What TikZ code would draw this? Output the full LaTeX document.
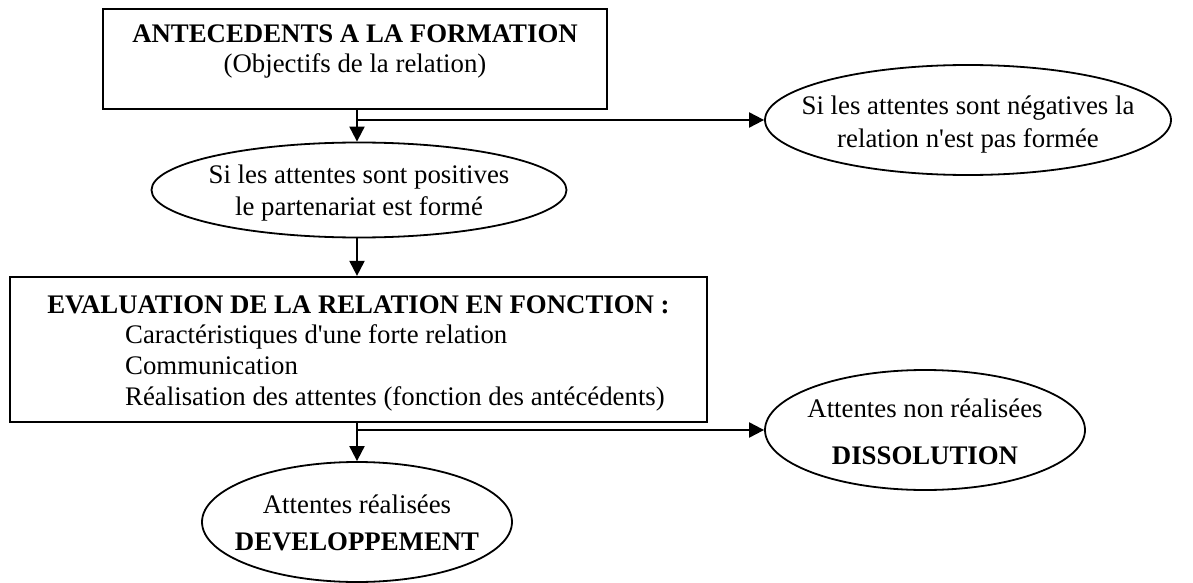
\documentclass[tikz,border=0pt]{standalone}
\usepackage{fontspec}
\setmainfont{Liberation Serif}
\usetikzlibrary{shapes.geometric,arrows.meta}
\begin{document}
\begin{tikzpicture}[x=1pt,y=-1pt,
  frame/.style={draw,line width=2.2pt,rectangle,inner sep=0pt},
  oval/.style={draw,line width=1.8pt,ellipse,inner sep=0pt},
  txt/.style={inner sep=0pt,font=\fontsize{26.8}{30}\selectfont,anchor=base},
  txtb/.style={txt,font=\fontsize{26.8}{30}\selectfont\bfseries},
  arr/.style={line width=2pt,-{Triangle[length=15pt,width=15pt]}}
]
\useasboundingbox (0,0) rectangle (1193,583);

% boxes
\node[frame,minimum width=504pt,minimum height=100pt] (antec) at (355,59) {};
\node[frame,minimum width=697pt,minimum height=145pt] (evalbox) at (358.5,349.5) {};

% ellipses
\node[oval,minimum width=415pt,minimum height=95pt] (pos) at (359,190) {};
\node[oval,minimum width=406pt,minimum height=110pt] (neg) at (968,120) {};
\node[oval,minimum width=320pt,minimum height=120pt] (diss) at (925,430) {};
\node[oval,minimum width=310pt,minimum height=120pt] (dev) at (357,522) {};

% texts
\node[txtb] (antecA) at (355,43) {ANTECEDENTS A LA FORMATION};
\node[txt]  (antecB) at (355,73) {(Objectifs de la relation)};

\node[txt] (posA) at (359,183) {Si les attentes sont positives};
\node[txt] (posB) at (359,215) {le partenariat est formé};

\node[txt] (negA) at (968,115) {Si les attentes sont négatives la};
\node[txt] (negB) at (968,147) {relation n\textquotesingle est pas formée};

\node[txtb] (evalA) at (358.5,313) {EVALUATION DE LA RELATION EN FONCTION :};
\node[txt,anchor=base west] (evalB) at (125,343) {Caractéristiques d\textquotesingle une forte relation};
\node[txt,anchor=base west] (evalC) at (125,374) {Communication};
\node[txt,anchor=base west] (evalD) at (125,405) {Réalisation des attentes (fonction des antécédents)};

\node[txt]  (dissA) at (925,417) {Attentes non réalisées};
\node[txtb] (dissB) at (925,464) {DISSOLUTION};

\node[txt]  (devA) at (357,513) {Attentes réalisées};
\node[txtb] (devB) at (357,550) {DEVELOPPEMENT};

% connectors
\coordinate (j1) at (357,120);
\coordinate (j2) at (357,430);
\draw[line width=2pt] (antec.south -| j1) -- (j1);
\draw[arr] (j1) -- (j1 |- pos.north);
\draw[arr] (j1) -- (neg.west);
\draw[arr] (pos.south -| j1) -- (evalbox.north -| j1);
\draw[line width=2pt] (evalbox.south -| j2) -- (j2);
\draw[arr] (j2) -- (j2 |- dev.north);
\draw[arr] (j2) -- (diss.west);
\end{tikzpicture}
\end{document}
